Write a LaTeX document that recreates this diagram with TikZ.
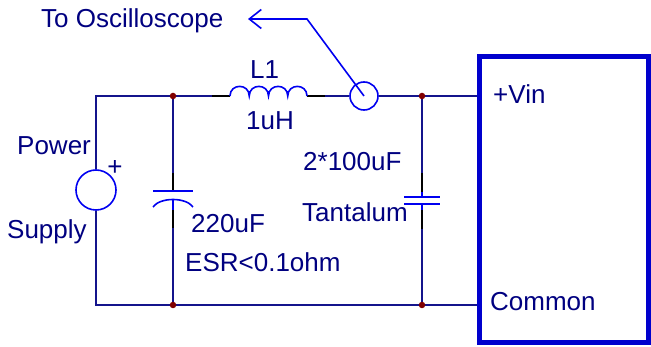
\documentclass[tikz,border=0pt]{standalone}
\usepackage{fontspec}
\setmainfont{Liberation Sans}
\usetikzlibrary{arrows.meta}

\definecolor{wirenavy}{RGB}{20,20,140}
\definecolor{partblue}{RGB}{0,0,240}
\definecolor{textnavy}{RGB}{0,0,128}
\definecolor{boxblue}{RGB}{0,0,205}
\definecolor{dotred}{RGB}{128,0,0}

\begin{document}
\begin{tikzpicture}[
    x = 1pt, y = -1pt,
    wire/.style = {draw = wirenavy, line width = 1.6pt},
    part/.style = {draw = partblue, line width = 1.6pt},
    lead/.style = {draw = black, line width = 1.6pt},
    txt/.style = {text = textnavy, inner sep = 0pt, anchor = base west,
                  font = \fontsize{26}{31}\selectfont},
    junction/.style = {circle, fill = dotred, inner sep = 0pt, minimum size = 6.5pt}]

\useasboundingbox (0,0) rectangle (651,347);

% junctions and component ends
\coordinate (tl) at (96,96);
\coordinate (bl) at (96,305);
\coordinate (j1) at (173,96);
\coordinate (j2) at (422,96);
\coordinate (j3) at (173,305);
\coordinate (j4) at (422,305);
\coordinate (L1in) at (212,96);
\coordinate (L1a) at (230,96);
\coordinate (L1b) at (307,96);
\coordinate (L1out) at (325,96);

\node[part, circle, minimum size = 40pt, inner sep = 0pt] (src) at (96,190) {};
\node[part, circle, minimum size = 28pt, inner sep = 0pt] (probe) at (364,96) {};
\node[draw = boxblue, line width = 5pt, inner sep = 0pt,
      minimum width = 169pt, minimum height = 286pt] (conv) at (563.5,200) {};

% wiring
\draw[wire] (src.north) -- (tl) -- (L1in);
\draw[lead] (L1in) -- (L1a) (L1b) -- (L1out);
\draw[part] (L1a) \foreach \k in {1,...,4} { .. controls +(0,-12.8) and +(0,-12.8) .. ++(19.25,0) };
\draw[wire] (L1out) -- (probe.west);
\draw[wire] (probe.east) -- (conv.west |- tl);
\draw[wire] (src.south) -- (bl) -- (conv.west |- bl);

% 220uF
\coordinate (C1top) at (173,173);
\coordinate (C1p) at (173,191);
\coordinate (C1n) at (173,199);
\coordinate (C1lead) at (173,210);
\coordinate (C1bot) at (173,228);
\draw[wire] (j1) -- (C1top);
\draw[lead] (C1top) -- (C1p);
\draw[part] ([xshift = -20pt]C1p) -- ([xshift = 20pt]C1p);
\draw[part] ([shift = {(-20,8)}]C1n) .. controls ([shift = {(-13,-2)}]C1n) and ([shift = {(13,-2)}]C1n) .. ([shift = {(20,8)}]C1n);
\draw[part] (C1n) -- (C1lead);
\draw[lead] (C1lead) -- (C1bot);
\draw[wire] (C1bot) -- (j3);

% 2*100uF
\coordinate (C2top) at (422,173);
\coordinate (C2a) at (422,192);
\coordinate (C2p) at (422,197);
\coordinate (C2n) at (422,204);
\coordinate (C2b) at (422,210);
\coordinate (C2bot) at (422,229);
\draw[wire] (j2) -- (C2top);
\draw[lead] (C2top) -- (C2a);
\draw[part] (C2a) -- (C2p) (C2n) -- (C2b);
\draw[part] ([xshift = -18pt]C2p) -- ([xshift = 18pt]C2p)
            ([xshift = -18pt]C2n) -- ([xshift = 18pt]C2n);
\draw[lead] (C2b) -- (C2bot);
\draw[wire] (C2bot) -- (j4);

\foreach \j in {j1,j2,j3,j4}
    \node[junction] at (\j) {};

% probe lead
\coordinate (bend) at (307,19);
\coordinate (tip) at (248,19);
\draw[part, -{Straight Barb[length = 12pt, width = 19pt]}] (probe.center) -- (bend) -- (tip);

% labels
\node[txt] (scope) at (41,28) {To Oscilloscope};
\node[txt] (l1name) at (250,79) {L1};
\node[txt] (l1val) at (246,130) {1uH};
\node[txt] (pwr) at (17,155) {Power};
\node[txt] (sup) at (7,239) {Supply};
\node[txt, anchor = center] (plus) at (115,168) {+};
\node[txt] (c1val) at (191,233) {220uF};
\node[txt] (c1esr) at (185,272) {ESR<0.1ohm};
\node[txt] (c2val) at (303,171) {2*100uF};
\node[txt] (c2type) at (302,222) {Tantalum};
\node[txt] (vin) at (493,104) {+Vin};
\node[txt] (com) at (490,311) {Common};
\end{tikzpicture}
\end{document}
